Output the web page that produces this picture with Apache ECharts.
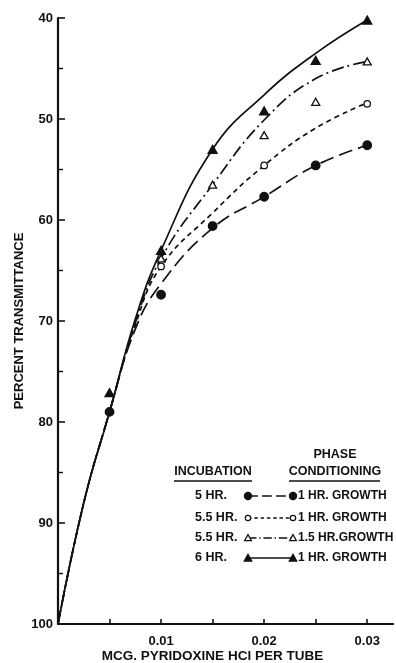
<!DOCTYPE html>
<html>
<head>
<meta charset="utf-8">
<script src="https://cdn.jsdelivr.net/npm/echarts@6/dist/echarts.min.js"></script>
<style>
html,body{margin:0;padding:0;background:#fff;}
#c{width:396px;height:663px;}
</style>
</head>
<body>
<div id="c"></div>
<script>
// ---- data ----
const xTickValues = [0.01, 0.02, 0.03];
const xTickLabels = ['0.01', '0.02', '0.03'];
const yTickValues = [40, 50, 60, 70, 80, 90, 100];
const yTickLabels = ['40', '50', '60', '70', '80', '90', '100'];

// measured points (markers)
const pts5hr1 = [[0.005,79.0],[0.01,67.4],[0.015,60.6],[0.02,57.7],[0.025,54.6],[0.03,52.6]];
const pts55hr1 = [[0.01,64.6],[0.02,54.6],[0.03,48.5]];
const pts55hr15 = [[0.01,63.8],[0.015,56.5],[0.02,51.6],[0.025,48.3],[0.03,44.3]];
const pts6hr1 = [[0.005,77.1],[0.01,63.0],[0.015,53.0],[0.02,49.2],[0.025,44.2],[0.03,40.2]];

// fitted curves
const curve5hr1 = [[0,100],[0.0025,88],[0.005,79],[0.0075,70.8],[0.01,66.3],[0.015,60.8],[0.02,57.7],[0.025,54.6],[0.03,52.6]];
const curve55hr1 = [[0,100],[0.0025,88],[0.005,79],[0.0075,70.4],[0.01,64.6],[0.015,59.3],[0.02,54.6],[0.025,50.9],[0.03,48.4]];
const curve55hr15 = [[0,100],[0.0025,88],[0.005,79],[0.0075,70.2],[0.01,63.8],[0.015,56.5],[0.02,50.1],[0.025,46.0],[0.03,44.3]];
const curve6hr1 = [[0,100],[0.0025,88],[0.005,79],[0.0075,69.8],[0.01,63.0],[0.015,53.0],[0.02,47.6],[0.025,43.5],[0.03,40.2]];

// legend texts
const legendIncubation = ['5 HR.', '5.5 HR.', '5.5 HR.', '6 HR.'];
const legendPhase = ['1 HR. GROWTH', '1 HR. GROWTH', '1.5 HR.GROWTH', '1 HR. GROWTH'];
const xAxisTitle = 'MCG. PYRIDOXINE HCl PER TUBE';
const yAxisTitle = 'PERCENT TRANSMITTANCE';

// ---- styles ----
const INK = '#111';
const FONT = '"Liberation Sans", Arial, sans-serif';
const styles = [
  {dash: [14, 6], symbol: 'circle', size: 8.5, fill: INK, lr: 3.6},
  {dash: [5, 4], symbol: 'circle', size: 6.5, fill: '#fff', lr: 2.7},
  {dash: [12, 4, 2, 4], symbol: 'triangle', size: [8, 7], fill: '#fff', lr: 3.4},
  {dash: 'solid', symbol: 'triangle', size: [9, 8], fill: INK, lr: 3.8}
];
const curves = [curve5hr1, curve55hr1, curve55hr15, curve6hr1];
const points = [pts5hr1, pts55hr1, pts55hr15, pts6hr1];

const series = [];
curves.forEach((c, i) => {
  series.push({
    type: 'line', data: c, smooth: 0.45, showSymbol: false, symbol: 'none',
    lineStyle: {color: INK, width: 1.7, type: styles[i].dash}, z: 2, silent: true
  });
});
points.forEach((p, i) => {
  series.push({
    type: 'scatter', data: p, symbol: styles[i].symbol, symbolSize: styles[i].size,
    itemStyle: {color: styles[i].fill, borderColor: INK, borderWidth: 1.3, opacity: 1}, z: 5
  });
});

// ---- legend as graphic ----
const gx = {label: 195, m1: 248, m2: 293, right: 298};
const rowY = [496, 518, 538, 558];
const graphics = [];
function markerEl(i, cx, cy) {
  const s = styles[i];
  if (s.symbol === 'circle') {
    return {type: 'circle', shape: {cx: cx, cy: cy, r: s.lr}, style: {fill: s.fill, stroke: INK, lineWidth: 1.2}, z: 20};
  }
  const r = s.lr;
  return {type: 'polygon', shape: {points: [[cx, cy - r], [cx + r, cy + r * 0.8], [cx - r, cy + r * 0.8]]}, style: {fill: s.fill, stroke: INK, lineWidth: 1.2}, z: 20};
}
function textEl(t, x, y, align, size) {
  return {type: 'text', x: x, y: y, z: 20, style: {text: t, font: 'bold ' + (size || 12.5) + 'px ' + FONT, fill: INK,
    textAlign: align, align: align, textVerticalAlign: 'middle', verticalAlign: 'middle'}};
}
graphics.push(textEl('PHASE', 335, 455, 'center'));
graphics.push(textEl('CONDITIONING', 335, 472, 'center'));
graphics.push(textEl('INCUBATION', 213, 472, 'center'));
graphics.push({type: 'line', shape: {x1: 174, y1: 481, x2: 252, y2: 481}, style: {stroke: INK, lineWidth: 1.3}, z: 20});
graphics.push({type: 'line', shape: {x1: 289, y1: 481, x2: 380, y2: 481}, style: {stroke: INK, lineWidth: 1.3}, z: 20});
legendIncubation.forEach((lab, i) => {
  const y = rowY[i];
  graphics.push(textEl(lab, gx.label, y, 'left'));
  const d = styles[i].dash;
  graphics.push({type: 'line', shape: {x1: gx.m1, y1: y, x2: gx.m2, y2: y},
    style: {stroke: INK, lineWidth: 1.6, lineDash: d === 'solid' ? null : (Array.isArray(d) ? d.map(v => v * 0.7) : d)}, z: 19});
  graphics.push(markerEl(i, gx.m1, y));
  graphics.push(markerEl(i, gx.m2, y));
  graphics.push(textEl(legendPhase[i], gx.right, y, 'left', 12));
});

const chart = echarts.init(document.getElementById('c'), null, {renderer: 'canvas'});
chart.setOption({
  animation: false,
  backgroundColor: '#fff',
  grid: {left: 58, right: 3, top: 18, bottom: 39, containLabel: false, outerBoundsMode: 'none'},
  xAxis: {
    type: 'value', min: 0, max: 0.0325, interval: 0.005,
    name: xAxisTitle, nameLocation: 'middle', nameGap: 25, nameMoveOverlap: false,
    nameTextStyle: {color: INK, fontSize: 13.5, fontWeight: 'bold', fontFamily: FONT, padding: [0, 26, 0, 0]},
    axisLine: {show: true, onZero: false, lineStyle: {color: INK, width: 2.2}},
    axisTick: {show: true, inside: true, length: 5, lineStyle: {color: INK, width: 1.6}},
    splitLine: {show: false},
    axisLabel: {
      color: INK, fontSize: 13, fontWeight: 'bold', fontFamily: FONT, margin: 11, showMaxLabel: false,
      formatter: function (v) {
        for (let k = 0; k < xTickValues.length; k++) {
          if (Math.abs(v - xTickValues[k]) < 1e-9) return xTickLabels[k];
        }
        return '';
      }
    }
  },
  yAxis: {
    type: 'value', inverse: true, min: 40, max: 100, interval: 10,
    name: yAxisTitle, nameLocation: 'middle', nameGap: 32, nameRotate: 90, nameMoveOverlap: false,
    nameTextStyle: {color: INK, fontSize: 13, fontWeight: 'bold', fontFamily: FONT},
    axisLine: {show: true, onZero: false, lineStyle: {color: INK, width: 2.2}},
    axisTick: {show: true, inside: true, length: 7, lineStyle: {color: INK, width: 1.6}},
    minorTick: {show: true, splitNumber: 2, length: 5, lineStyle: {color: INK, width: 1.4}},
    splitLine: {show: false},
    axisLabel: {
      color: INK, fontSize: 13, fontWeight: 'bold', fontFamily: FONT, margin: 5,
      formatter: function (v) {
        const k = yTickValues.indexOf(Math.round(v));
        return k >= 0 ? yTickLabels[k] : '';
      }
    }
  },
  series: series,
  graphic: graphics
});
</script>
</body>
</html>
